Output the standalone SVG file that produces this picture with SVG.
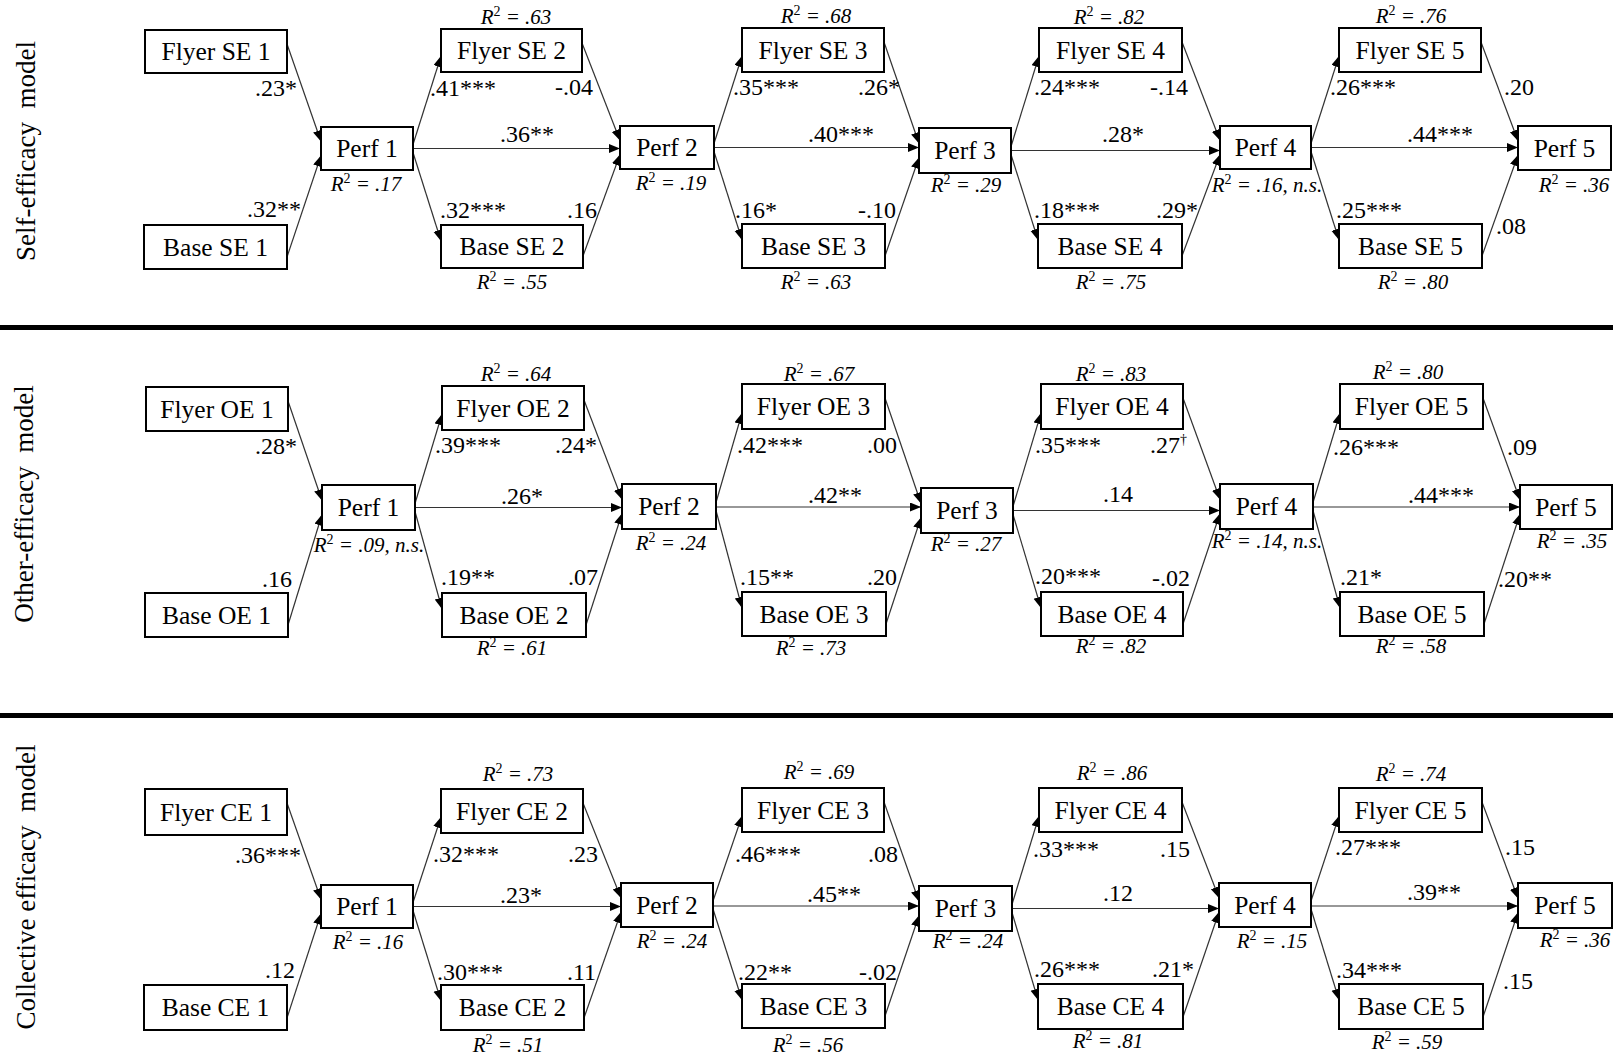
<svg xmlns="http://www.w3.org/2000/svg" width="1613" height="1055" viewBox="0 0 1613 1055">
<style>
text{font-family:"Liberation Serif","Times New Roman",serif;fill:#000}
.node rect{fill:#fff;stroke:#000;stroke-width:2}
.node text{font-size:25.5px;text-anchor:middle}
.coef{font-size:24px}
.r2{font-size:21px;font-style:italic;text-anchor:middle}
.sup{font-style:normal;font-size:14px}
.side{font-size:27px;text-anchor:middle}
.conn line{stroke:#333;stroke-width:1.2;fill:none;marker-end:url(#ah)}
.sep{fill:#000}
</style>
<defs>
<marker id="ah" markerUnits="userSpaceOnUse" markerWidth="12" markerHeight="10" refX="11" refY="4.5" orient="auto">
<path d="M0,0 L11,4.5 L0,9 Z" fill="#000"/>
</marker>
</defs>
<rect width="1613" height="1055" fill="#fff"/>
<rect class="sep" x="0" y="325" width="1613" height="5"/>
<rect class="sep" x="0" y="713" width="1613" height="5"/>
<g id="side-labels">
<text class="side" transform="translate(35,151) rotate(-90)">Self-efficacy&#160; model</text>
<text class="side" transform="translate(33,504) rotate(-90)">Other-efficacy&#160; model</text>
<text class="side" transform="translate(35,887) rotate(-90)">Collective efficacy&#160; model</text>
</g>
<g class="conn" id="connectors">
<!-- Panel 1 -->
<line x1="287" y1="44" x2="321" y2="141.5"/>
<line x1="287" y1="257" x2="321" y2="155.5"/>
<line x1="413" y1="144.5" x2="441" y2="56"/>
<line x1="413" y1="152.5" x2="441" y2="241"/>
<line x1="413" y1="148.5" x2="620" y2="148.5"/>
<line x1="582" y1="43" x2="620" y2="140.5"/>
<line x1="583" y1="256" x2="620" y2="154.5"/>
<line x1="714" y1="143.5" x2="742" y2="56"/>
<line x1="714" y1="151.5" x2="742" y2="240"/>
<line x1="714" y1="147.5" x2="919" y2="147.5"/>
<line x1="884" y1="42" x2="919" y2="143.5"/>
<line x1="885" y1="256" x2="919" y2="157.5"/>
<line x1="1011" y1="146.5" x2="1039" y2="56"/>
<line x1="1011" y1="154.5" x2="1038" y2="240"/>
<line x1="1011" y1="150.5" x2="1220" y2="150.5"/>
<line x1="1182" y1="42" x2="1220" y2="140.5"/>
<line x1="1182" y1="256" x2="1220" y2="154.5"/>
<line x1="1311" y1="143.5" x2="1339" y2="56"/>
<line x1="1311" y1="151.5" x2="1339" y2="240"/>
<line x1="1311" y1="147.5" x2="1518" y2="147.5"/>
<line x1="1481" y1="42" x2="1518" y2="141"/>
<line x1="1482" y1="256" x2="1518" y2="155"/>
<!-- Panel 2 -->
<line x1="288" y1="401" x2="322" y2="500.5"/>
<line x1="288" y1="625" x2="322" y2="514.5"/>
<line x1="415" y1="503.5" x2="442" y2="414"/>
<line x1="415" y1="511.5" x2="442" y2="609"/>
<line x1="415" y1="507.5" x2="622" y2="507.5"/>
<line x1="584" y1="400" x2="622" y2="499.5"/>
<line x1="586" y1="625" x2="622" y2="513.5"/>
<line x1="716" y1="502.5" x2="742" y2="413"/>
<line x1="716" y1="510.5" x2="742" y2="608"/>
<line x1="716" y1="507" x2="921" y2="507"/>
<line x1="885" y1="398" x2="921" y2="503.5"/>
<line x1="886" y1="624" x2="921" y2="517.5"/>
<line x1="1013" y1="506.5" x2="1041" y2="413"/>
<line x1="1013" y1="514.5" x2="1041" y2="608"/>
<line x1="1013" y1="510.5" x2="1220" y2="510.5"/>
<line x1="1183" y1="398" x2="1220" y2="499.5"/>
<line x1="1183" y1="624" x2="1220" y2="513.5"/>
<line x1="1313" y1="502.5" x2="1340" y2="413"/>
<line x1="1313" y1="510.5" x2="1340" y2="608"/>
<line x1="1313" y1="507" x2="1520" y2="507"/>
<line x1="1483" y1="398" x2="1520" y2="500"/>
<line x1="1484" y1="624" x2="1520" y2="514"/>
<!-- Panel 3 -->
<line x1="287" y1="803" x2="321" y2="899.5"/>
<line x1="287" y1="1018" x2="321" y2="913.5"/>
<line x1="413" y1="902.5" x2="441" y2="817"/>
<line x1="413" y1="910.5" x2="441" y2="1001"/>
<line x1="413" y1="906.5" x2="621" y2="906.5"/>
<line x1="583" y1="803" x2="621" y2="898"/>
<line x1="584" y1="1018" x2="621" y2="912"/>
<line x1="713" y1="901" x2="742" y2="816"/>
<line x1="713" y1="909" x2="742" y2="1000"/>
<line x1="713" y1="906" x2="919" y2="906"/>
<line x1="884" y1="802" x2="919" y2="901.5"/>
<line x1="885" y1="1016" x2="919" y2="915.5"/>
<line x1="1012" y1="904.5" x2="1039" y2="816"/>
<line x1="1012" y1="912.5" x2="1038" y2="1000"/>
<line x1="1012" y1="908.5" x2="1219" y2="908.5"/>
<line x1="1182" y1="802" x2="1219" y2="898"/>
<line x1="1183" y1="1017" x2="1219" y2="912"/>
<line x1="1311" y1="901" x2="1339" y2="816"/>
<line x1="1311" y1="909" x2="1339" y2="1000"/>
<line x1="1311" y1="906" x2="1518" y2="906"/>
<line x1="1482" y1="802" x2="1518" y2="898.5"/>
<line x1="1483" y1="1017" x2="1518" y2="912.5"/>
</g>
<!-- Panel 1 nodes -->
<g id="se-flyer1" class="node"><rect x="145" y="30" width="142" height="43"/><text x="216" y="60">Flyer SE 1</text></g>
<g id="se-base1" class="node"><rect x="144" y="225" width="143" height="44"/><text x="215.5" y="255.5">Base SE 1</text></g>
<g id="se-perf1" class="node"><rect x="321" y="127" width="92" height="43"/><text x="367" y="157">Perf 1</text></g>
<g id="se-flyer2" class="node"><rect x="441" y="29" width="141" height="43"/><text x="511.5" y="59">Flyer SE 2</text></g>
<g id="se-base2" class="node"><rect x="441" y="225" width="142" height="43"/><text x="512" y="255">Base SE 2</text></g>
<g id="se-perf2" class="node"><rect x="620" y="126" width="94" height="43"/><text x="667" y="156">Perf 2</text></g>
<g id="se-flyer3" class="node"><rect x="742" y="28" width="142" height="44"/><text x="813" y="58.5">Flyer SE 3</text></g>
<g id="se-base3" class="node"><rect x="742" y="224" width="143" height="44"/><text x="813.5" y="254.5">Base SE 3</text></g>
<g id="se-perf3" class="node"><rect x="919" y="128" width="92" height="45"/><text x="965" y="159">Perf 3</text></g>
<g id="se-flyer4" class="node"><rect x="1039" y="28" width="143" height="44"/><text x="1110.5" y="58.5">Flyer SE 4</text></g>
<g id="se-base4" class="node"><rect x="1038" y="224" width="144" height="44"/><text x="1110" y="254.5">Base SE 4</text></g>
<g id="se-perf4" class="node"><rect x="1220" y="126" width="91" height="43"/><text x="1265.5" y="156">Perf 4</text></g>
<g id="se-flyer5" class="node"><rect x="1339" y="28" width="142" height="44"/><text x="1410" y="58.5">Flyer SE 5</text></g>
<g id="se-base5" class="node"><rect x="1339" y="224" width="143" height="44"/><text x="1410.5" y="254.5">Base SE 5</text></g>
<g id="se-perf5" class="node"><rect x="1518" y="126" width="93" height="44"/><text x="1564.5" y="156.5">Perf 5</text></g>
<!-- Panel 2 nodes -->
<g id="oe-flyer1" class="node"><rect x="146" y="387" width="142" height="44"/><text x="217" y="417.5">Flyer OE 1</text></g>
<g id="oe-base1" class="node"><rect x="145" y="593" width="143" height="44"/><text x="216.5" y="623.5">Base OE 1</text></g>
<g id="oe-perf1" class="node"><rect x="322" y="485" width="93" height="45"/><text x="368.5" y="516">Perf 1</text></g>
<g id="oe-flyer2" class="node"><rect x="442" y="386" width="142" height="44"/><text x="513" y="416.5">Flyer OE 2</text></g>
<g id="oe-base2" class="node"><rect x="442" y="593" width="144" height="44"/><text x="514" y="623.5">Base OE 2</text></g>
<g id="oe-perf2" class="node"><rect x="622" y="484" width="94" height="45"/><text x="669" y="515">Perf 2</text></g>
<g id="oe-flyer3" class="node"><rect x="742" y="384" width="143" height="45"/><text x="813.5" y="415">Flyer OE 3</text></g>
<g id="oe-base3" class="node"><rect x="742" y="592" width="144" height="44"/><text x="814" y="622.5">Base OE 3</text></g>
<g id="oe-perf3" class="node"><rect x="921" y="488" width="92" height="45"/><text x="967" y="519">Perf 3</text></g>
<g id="oe-flyer4" class="node"><rect x="1041" y="384" width="142" height="45"/><text x="1112" y="415">Flyer OE 4</text></g>
<g id="oe-base4" class="node"><rect x="1041" y="592" width="142" height="44"/><text x="1112" y="622.5">Base OE 4</text></g>
<g id="oe-perf4" class="node"><rect x="1220" y="484" width="93" height="45"/><text x="1266.5" y="515">Perf 4</text></g>
<g id="oe-flyer5" class="node"><rect x="1340" y="384" width="143" height="45"/><text x="1411.5" y="415">Flyer OE 5</text></g>
<g id="oe-base5" class="node"><rect x="1340" y="592" width="144" height="44"/><text x="1412" y="622.5">Base OE 5</text></g>
<g id="oe-perf5" class="node"><rect x="1520" y="485" width="92" height="44"/><text x="1566" y="515.5">Perf 5</text></g>
<!-- Panel 3 nodes -->
<g id="ce-flyer1" class="node"><rect x="145" y="789" width="142" height="46"/><text x="216" y="820.5">Flyer CE 1</text></g>
<g id="ce-base1" class="node"><rect x="144" y="985" width="143" height="45"/><text x="215.5" y="1016">Base CE 1</text></g>
<g id="ce-perf1" class="node"><rect x="321" y="885" width="92" height="43"/><text x="367" y="915">Perf 1</text></g>
<g id="ce-flyer2" class="node"><rect x="441" y="789" width="142" height="44"/><text x="512" y="819.5">Flyer CE 2</text></g>
<g id="ce-base2" class="node"><rect x="441" y="985" width="143" height="45"/><text x="512.5" y="1016">Base CE 2</text></g>
<g id="ce-perf2" class="node"><rect x="621" y="883" width="92" height="44"/><text x="667" y="913.5">Perf 2</text></g>
<g id="ce-flyer3" class="node"><rect x="742" y="788" width="142" height="44"/><text x="813" y="818.5">Flyer CE 3</text></g>
<g id="ce-base3" class="node"><rect x="742" y="984" width="143" height="44"/><text x="813.5" y="1014.5">Base CE 3</text></g>
<g id="ce-perf3" class="node"><rect x="919" y="886" width="93" height="45"/><text x="965.5" y="917">Perf 3</text></g>
<g id="ce-flyer4" class="node"><rect x="1039" y="788" width="143" height="44"/><text x="1110.5" y="818.5">Flyer CE 4</text></g>
<g id="ce-base4" class="node"><rect x="1038" y="984" width="145" height="45"/><text x="1110.5" y="1015">Base CE 4</text></g>
<g id="ce-perf4" class="node"><rect x="1219" y="883" width="92" height="44"/><text x="1265" y="913.5">Perf 4</text></g>
<g id="ce-flyer5" class="node"><rect x="1339" y="788" width="143" height="44"/><text x="1410.5" y="818.5">Flyer CE 5</text></g>
<g id="ce-base5" class="node"><rect x="1339" y="984" width="144" height="45"/><text x="1411" y="1015">Base CE 5</text></g>
<g id="ce-perf5" class="node"><rect x="1518" y="883" width="94" height="45"/><text x="1565" y="914">Perf 5</text></g>
<g id="coefficients" class="coef">
<text x="255" y="96">.23*</text>
<text x="247" y="217">.32**</text>
<text x="430" y="96">.41***</text>
<text x="555" y="95">-.04</text>
<text x="500" y="142">.36**</text>
<text x="440" y="218">.32***</text>
<text x="567" y="218">.16</text>
<text x="733" y="95">.35***</text>
<text x="858" y="95">.26*</text>
<text x="808" y="142">.40***</text>
<text x="735" y="218">.16*</text>
<text x="858" y="218">-.10</text>
<text x="1034" y="95">.24***</text>
<text x="1150" y="95">-.14</text>
<text x="1102" y="142">.28*</text>
<text x="1034" y="218">.18***</text>
<text x="1156" y="218">.29*</text>
<text x="1330" y="95">.26***</text>
<text x="1504" y="95">.20</text>
<text x="1407" y="142">.44***</text>
<text x="1336" y="218">.25***</text>
<text x="1496" y="234">.08</text>
<text x="255" y="454">.28*</text>
<text x="262" y="587">.16</text>
<text x="435" y="453">.39***</text>
<text x="555" y="453">.24*</text>
<text x="501" y="504">.26*</text>
<text x="441" y="585">.19**</text>
<text x="568" y="585">.07</text>
<text x="737" y="453">.42***</text>
<text x="867" y="453">.00</text>
<text x="808" y="503">.42**</text>
<text x="740" y="585">.15**</text>
<text x="867" y="585">.20</text>
<text x="1035" y="453">.35***</text>
<text x="1150" y="453">.27<tspan dy="-9" font-size="14">†</tspan></text>
<text x="1103" y="502">.14</text>
<text x="1035" y="584">.20***</text>
<text x="1152" y="586">-.02</text>
<text x="1333" y="455">.26***</text>
<text x="1507" y="455">.09</text>
<text x="1408" y="503">.44***</text>
<text x="1340" y="585">.21*</text>
<text x="1498" y="587">.20**</text>
<text x="235" y="863">.36***</text>
<text x="265" y="978">.12</text>
<text x="433" y="862">.32***</text>
<text x="568" y="862">.23</text>
<text x="500" y="903">.23*</text>
<text x="437" y="980">.30***</text>
<text x="567" y="980">.11</text>
<text x="735" y="862">.46***</text>
<text x="868" y="862">.08</text>
<text x="807" y="902">.45**</text>
<text x="738" y="980">.22**</text>
<text x="859" y="980">-.02</text>
<text x="1033" y="857">.33***</text>
<text x="1160" y="857">.15</text>
<text x="1103" y="901">.12</text>
<text x="1034" y="977">.26***</text>
<text x="1152" y="977">.21*</text>
<text x="1335" y="855">.27***</text>
<text x="1505" y="855">.15</text>
<text x="1407" y="900">.39**</text>
<text x="1336" y="978">.34***</text>
<text x="1503" y="989">.15</text>
</g>
<g id="r-squared" class="r2">
<text x="516" y="24">R<tspan class="sup" dy="-8">2</tspan><tspan dy="8"> = .63</tspan></text>
<text x="512" y="289">R<tspan class="sup" dy="-8">2</tspan><tspan dy="8"> = .55</tspan></text>
<text x="366" y="191">R<tspan class="sup" dy="-8">2</tspan><tspan dy="8"> = .17</tspan></text>
<text x="671" y="190">R<tspan class="sup" dy="-8">2</tspan><tspan dy="8"> = .19</tspan></text>
<text x="816" y="23">R<tspan class="sup" dy="-8">2</tspan><tspan dy="8"> = .68</tspan></text>
<text x="816" y="289">R<tspan class="sup" dy="-8">2</tspan><tspan dy="8"> = .63</tspan></text>
<text x="966" y="192">R<tspan class="sup" dy="-8">2</tspan><tspan dy="8"> = .29</tspan></text>
<text x="1109" y="24">R<tspan class="sup" dy="-8">2</tspan><tspan dy="8"> = .82</tspan></text>
<text x="1111" y="289">R<tspan class="sup" dy="-8">2</tspan><tspan dy="8"> = .75</tspan></text>
<text x="1267" y="192">R<tspan class="sup" dy="-8">2</tspan><tspan dy="8"> = .16, n.s.</tspan></text>
<text x="1411" y="23">R<tspan class="sup" dy="-8">2</tspan><tspan dy="8"> = .76</tspan></text>
<text x="1413" y="289">R<tspan class="sup" dy="-8">2</tspan><tspan dy="8"> = .80</tspan></text>
<text x="1574" y="192">R<tspan class="sup" dy="-8">2</tspan><tspan dy="8"> = .36</tspan></text>
<text x="369" y="552">R<tspan class="sup" dy="-8">2</tspan><tspan dy="8"> = .09, n.s.</tspan></text>
<text x="516" y="381">R<tspan class="sup" dy="-8">2</tspan><tspan dy="8"> = .64</tspan></text>
<text x="512" y="655">R<tspan class="sup" dy="-8">2</tspan><tspan dy="8"> = .61</tspan></text>
<text x="671" y="550">R<tspan class="sup" dy="-8">2</tspan><tspan dy="8"> = .24</tspan></text>
<text x="819" y="381">R<tspan class="sup" dy="-8">2</tspan><tspan dy="8"> = .67</tspan></text>
<text x="811" y="655">R<tspan class="sup" dy="-8">2</tspan><tspan dy="8"> = .73</tspan></text>
<text x="966" y="551">R<tspan class="sup" dy="-8">2</tspan><tspan dy="8"> = .27</tspan></text>
<text x="1111" y="381">R<tspan class="sup" dy="-8">2</tspan><tspan dy="8"> = .83</tspan></text>
<text x="1111" y="653">R<tspan class="sup" dy="-8">2</tspan><tspan dy="8"> = .82</tspan></text>
<text x="1267" y="548">R<tspan class="sup" dy="-8">2</tspan><tspan dy="8"> = .14, n.s.</tspan></text>
<text x="1408" y="379">R<tspan class="sup" dy="-8">2</tspan><tspan dy="8"> = .80</tspan></text>
<text x="1411" y="653">R<tspan class="sup" dy="-8">2</tspan><tspan dy="8"> = .58</tspan></text>
<text x="1572" y="548">R<tspan class="sup" dy="-8">2</tspan><tspan dy="8"> = .35</tspan></text>
<text x="368" y="949">R<tspan class="sup" dy="-8">2</tspan><tspan dy="8"> = .16</tspan></text>
<text x="518" y="781">R<tspan class="sup" dy="-8">2</tspan><tspan dy="8"> = .73</tspan></text>
<text x="508" y="1052">R<tspan class="sup" dy="-8">2</tspan><tspan dy="8"> = .51</tspan></text>
<text x="672" y="948">R<tspan class="sup" dy="-8">2</tspan><tspan dy="8"> = .24</tspan></text>
<text x="819" y="779">R<tspan class="sup" dy="-8">2</tspan><tspan dy="8"> = .69</tspan></text>
<text x="808" y="1052">R<tspan class="sup" dy="-8">2</tspan><tspan dy="8"> = .56</tspan></text>
<text x="968" y="948">R<tspan class="sup" dy="-8">2</tspan><tspan dy="8"> = .24</tspan></text>
<text x="1112" y="780">R<tspan class="sup" dy="-8">2</tspan><tspan dy="8"> = .86</tspan></text>
<text x="1108" y="1048">R<tspan class="sup" dy="-8">2</tspan><tspan dy="8"> = .81</tspan></text>
<text x="1272" y="948">R<tspan class="sup" dy="-8">2</tspan><tspan dy="8"> = .15</tspan></text>
<text x="1411" y="781">R<tspan class="sup" dy="-8">2</tspan><tspan dy="8"> = .74</tspan></text>
<text x="1407" y="1049">R<tspan class="sup" dy="-8">2</tspan><tspan dy="8"> = .59</tspan></text>
<text x="1575" y="947">R<tspan class="sup" dy="-8">2</tspan><tspan dy="8"> = .36</tspan></text>
</g>
</svg>
